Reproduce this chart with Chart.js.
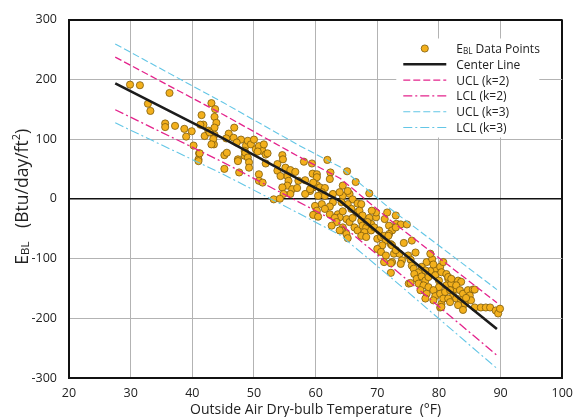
<!DOCTYPE html>
<html><head><meta charset="utf-8">
<script src="https://cdn.jsdelivr.net/npm/chart.js@4/dist/chart.umd.min.js"></script>
<style>html,body{margin:0;padding:0;background:#fff}#wrap{width:581px;height:417px;position:relative}</style>
</head><body><div id="wrap"><canvas id="c" width="581" height="417"></canvas></div>
<script>
// ---- data ----
const xTicks = [20,30,40,50,60,70,80,90,100];
const yTicks = [-300,-200,-100,0,100,200,300];

// E_BL data points: outside temperature (°F) and E_BL (Btu/day/ft²)
const tempF = [
 29.9,31.5,36.3,32.8,33.2,35.6,35.6,37.2,38.7,39.0,39.9,40.2,41.1,41.0,41.5,43.1,43.7,43.6,43.9,43.6,43.6,43.5,42.6,41.8,41.3,42.0,42.8,43.4,43.1,41.0,41.2,
 46.8,45.9,46.7,47.9,45.5,47.2,48.7,49.0,49.5,50.3,50.8,51.4,51.9,45.2,45.6,48.5,48.5,47.4,50.0,51.6,52.2,50.6,48.6,49.0,49.2,49.2,47.4,45.2,47.6,50.8,50.8,51.4,51.9,53.8,54.6,54.7,55.1,53.8,55.9,56.7,55.4,54.3,55.6,57.2,58.3,55.4,54.6,56.2,57.0,55.9,54.8,58.1,59.4,59.5,59.1,58.3,59.6,53.2,54.2,61.9,
 62.4,65.1,66.5,68.7,60.2,60.2,59.1,60.7,61.5,61.0,61.5,60.4,62.8,64.4,65.5,66.0,66.8,67.4,65.2,64.2,62.8,62.3,61.0,59.9,60.2,59.6,60.4,62.3,63.6,63.9,65.0,65.5,64.4,64.2,65.0,65.2,66.3,66.8,66.0,67.4,67.6,68.2,67.9,67.4,68.2,69.0,69.0,69.8,69.8,69.1,69.5,63.1,64.4,66.6,65.8,67.1,67.6,68.7,68.4,61.5,63.4,62.6,63.9,62.3,60.2,59.6,64.4,63.9,65.2,
 70.3,70.0,70.6,71.6,71.2,71.9,73.0,73.1,72.4,71.9,71.1,71.4,72.2,70.8,70.0,70.6,71.4,72.7,72.4,71.1,73.6,74.0,73.8,74.8,73.0,71.8,72.4,73.0,74.3,75.6,76.2,75.0,75.4,72.2,73.8,72.2,75.6,75.9,75.1,
 78.0,78.9,79.4,78.6,76.7,76.0,76.4,77.2,77.8,78.3,76.7,77.5,78.3,75.4,77.0,78.0,77.8,79.4,80.0,80.0,79.1,79.4,80.2,79.1,80.4,80.7,80.2,81.0,81.2,81.5,82.0,82.6,81.8,82.3,81.5,81.8,83.1,83.6,82.8,83.4,83.9,82.8,83.6,84.2,83.1,83.9,84.7,85.5,85.0,85.2,84.4,85.8,86.8,87.6,88.3,89.2,89.6,89.9,85.8,77.2,77.8,78.6,79.1,80.2,80.4,81.2,80.7,80.4,81.5,82.0
];
const eblValues = [
 191,190,177,159,147,126,120,122,117,104,113,89,76,66,140,160,150,137,127,119,107,91,114,124,124,105,111,100,91,63,76,
 119,109,102,99,101,94,89,97,91,83,88,80,74,73,77,80,72,66,99,91,76,79,77,69,61,52,63,50,44,41,30,27,59,58,73,66,52,47,48,45,38,38,30,30,31,22,19,16,18,8,8,62,59,42,13,8,19,-1,0,65,
 44,46,28,9,41,23,16,19,18,11,5,5,8,5,8,-1,-8,-9,-9,-6,-6,-13,-9,-12,-20,-27,-30,-26,-26,-31,-34,-39,-48,-53,-59,-66,-48,-53,-32,-37,-45,-48,-56,-62,-64,-53,-42,-31,-23,-20,-48,-32,-21,-23,-17,-20,-28,-32,-39,-17,-39,-45,-53,33,36,27,22,11,13,
 -53,-67,-64,-23,-34,-45,-28,-42,-53,-59,-62,-70,-76,-78,-84,-89,-95,-92,-106,-106,-92,-103,-43,-43,-48,-62,-78,-86,-74,-70,-90,-95,-102,-108,-109,-124,-112,-117,-142,
 -106,-101,-117,-121,-123,-126,-134,-130,-137,-131,-142,-145,-148,-141,-153,-159,-167,-128,-137,-148,-153,-163,-159,-170,-176,-167,-182,-156,-145,-134,-142,-151,-153,-162,-167,-173,-137,-139,-145,-153,-159,-167,-170,-176,-178,-186,-153,-152,-162,-170,-166,-182,-182,-182,-182,-187,-192,-184,-152,-114,-120,-92,-110,-114,-123,-126,-106,-181,-131,-134
];

// center line and control limits (read at these temperatures)
const lineX   = [27.5, 45, 57, 64, 72, 89.4];
const center  = [193, 101, 34, -4, -73, -218];
const ucl2    = [237, 141, 72, 34, -35, -174];
const lcl2    = [149, 61, -4, -42, -111, -262];
const ucl3    = [259, 161, 91, 53, -16, -152];
const lcl3    = [127, 41, -23, -61, -130, -284];

// ---- chart ----
const FONT = "'Open Sans', 'DejaVu Sans', sans-serif";
Chart.defaults.font.family = FONT;
Chart.defaults.font.size = 12;
Chart.defaults.color = '#222';

const PINK = '#e4238c', BLUE = '#63c6e6';
const toXY = (xs, ys) => xs.map((x, i) => ({x, y: ys[i]}));
const lineDs = (label, ys, color, width, dash) => ({
  type: 'line', label, data: toXY(lineX, ys), borderColor: color, backgroundColor: color,
  borderWidth: width, borderDash: dash, pointRadius: 0, fill: false, tension: 0, order: 1
});

const datasets = [
  { type: 'scatter', label: 'E_BL Data Points', data: toXY(tempF, eblValues),
    pointRadius: 3.6, backgroundColor: '#f3b01c', borderColor: '#7d5c0c', borderWidth: 0.8, order: 2 },
  lineDs('Center Line', center, '#1c1c1c', 2.6, []),
  lineDs('UCL (k=2)', ucl2, PINK, 1.3, [7, 3]),
  lineDs('LCL (k=2)', lcl2, PINK, 1.3, [9, 3, 2, 3]),
  lineDs('UCL (k=3)', ucl3, BLUE, 1.1, [7, 3]),
  lineDs('LCL (k=3)', lcl3, BLUE, 1.1, [9, 3, 2, 3])
];

function drawRich(ctx, parts, x, y) {
  let cx = x;
  for (const [t, s, dy] of parts) {
    ctx.font = s + 'px ' + FONT;
    ctx.fillText(t, cx, y + dy);
    cx += ctx.measureText(t).width;
  }
  return cx - x;
}
function richWidth(ctx, parts) {
  let w = 0;
  for (const [t, s] of parts) { ctx.font = s + 'px ' + FONT; w += ctx.measureText(t).width; }
  return w;
}
function labelParts(label, size) {
  const m = label.match(/^(\w)_(\w+)(.*)$/);
  if (!m) return [[label, size, 0]];
  return [[m[1], size, 0], [m[2], size * 0.68, 1], [m[3], size, 0]];
}

const insetLegend = {
  id: 'insetLegend',
  afterDatasetsDraw(chart) {
    const {ctx, chartArea} = chart;
    const x0 = chartArea.right - 166, y0 = chartArea.top + 19;
    ctx.save();
    ctx.fillStyle = '#fff';
    ctx.fillRect(x0, y0, 143, 99);
    const sx1 = x0 + 7, sx2 = x0 + 50, tx = x0 + 60;
    chart.data.datasets.forEach((ds, i) => {
      const y = y0 + 10 + i * 15.8;
      if (ds.type === 'scatter') {
        ctx.beginPath();
        ctx.arc((sx1 + sx2) / 2, y, ds.pointRadius, 0, Math.PI * 2);
        ctx.fillStyle = ds.backgroundColor; ctx.fill();
        ctx.lineWidth = ds.borderWidth; ctx.strokeStyle = ds.borderColor; ctx.stroke();
      } else {
        ctx.beginPath();
        ctx.setLineDash(ds.borderDash);
        ctx.lineWidth = ds.borderWidth; ctx.strokeStyle = ds.borderColor;
        ctx.moveTo(sx1, y); ctx.lineTo(sx2, y); ctx.stroke();
        ctx.setLineDash([]);
      }
      ctx.fillStyle = '#222';
      ctx.textBaseline = 'alphabetic';
      ctx.textAlign = 'left';
      drawRich(ctx, labelParts(ds.label, 12), tx, y + 4.5);
    });
    ctx.restore();
  }
};

const yTitle = {
  id: 'yTitle',
  afterDraw(chart) {
    const {ctx, chartArea} = chart;
    const parts = [['E', 17.5, 0], ['BL', 11.5, 1], ['   (Btu/day/ft', 17.5, 0], ['2', 11, -8], [')', 17.5, 0]];
    ctx.save();
    ctx.translate(28, (chartArea.top + chartArea.bottom) / 2 - 2);
    ctx.rotate(-Math.PI / 2);
    ctx.fillStyle = '#222';
    ctx.textBaseline = 'alphabetic';
    ctx.textAlign = 'left';
    const w = richWidth(ctx, parts);
    drawRich(ctx, parts, -w / 2, 0);
    ctx.restore();
  }
};

const gridColor = (edgeVal) => (c) => (c.tick && (c.tick.value === 0 && edgeVal === 300 || c.tick.value === edgeVal)) ? '#111' : '#b3b3b3';
const gridWidth = (edgeVal) => (c) => (c.tick && c.tick.value === edgeVal) ? 2 : (c.tick && c.tick.value === 0 && edgeVal === 300 ? 1.6 : 1);

new Chart(document.getElementById('c'), {
  type: 'scatter',
  data: { datasets },
  options: {
    responsive: false, animation: false, devicePixelRatio: 1,
    layout: { padding: { left: 0, right: 12, top: 18, bottom: 0 } },
    plugins: { legend: { display: false }, tooltip: { enabled: false } },
    scales: {
      x: {
        type: 'linear', min: 20, max: 100,
        afterBuildTicks: (s) => { s.ticks = xTicks.map(v => ({value: v})); },
        afterFit: (s) => { s.height = 39; },
        ticks: { padding: 8, autoSkip: false, maxRotation: 0, font: { size: 12.5 } },
        grid: { drawTicks: false, color: gridColor(100), lineWidth: gridWidth(100) },
        border: { display: true, color: '#111', width: 2 },
        title: { display: true, text: 'Outside Air Dry-bulb Temperature  (°F)', font: { size: 14, lineHeight: 1 }, padding: { top: 0, bottom: 0 } }
      },
      y: {
        type: 'linear', min: -300, max: 300,
        afterBuildTicks: (s) => { s.ticks = yTicks.map(v => ({value: v})); },
        afterFit: (s) => { s.width = 69; },
        ticks: { padding: 12, autoSkip: false, font: { size: 12.5 } },
        grid: { drawTicks: false, color: gridColor(300), lineWidth: gridWidth(300) },
        border: { display: true, color: '#111', width: 2 },
        title: { display: false }
      }
    }
  },
  plugins: [insetLegend, yTitle]
});
</script>
</body></html>
